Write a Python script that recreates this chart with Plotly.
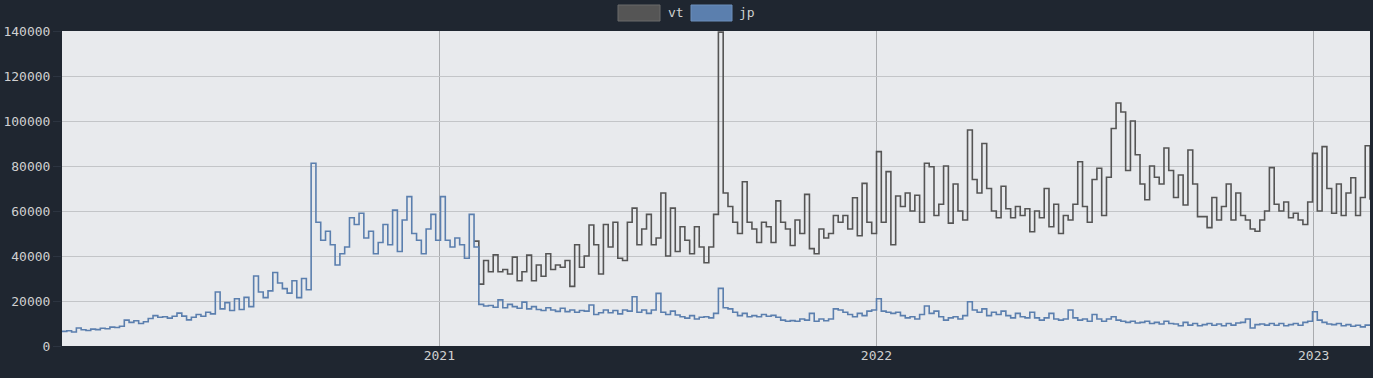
import pandas as pd
import plotly.graph_objects as go

# sampling: one value every 4 days
start_date = "2020-02-21"
n_points = 274
vt_start_index = 86

jp_values = [
    6500, 6800, 6200, 8000, 7200, 6900, 7500, 7300, 7900, 7700,
    8400, 8200, 8800, 11500, 10500, 11200, 10000, 10800, 12200, 13500,
    12800, 13000, 12400, 13200, 14600, 13300, 11600, 12800, 14000, 13200,
    15000, 14300, 24000, 16500, 19300, 15800, 21000, 16200, 21600, 17500,
    31100, 24000, 21500, 24500, 32700, 28000, 25500, 23500, 29000, 21500,
    30000, 25000, 81200, 55000, 47000, 51000, 45000, 36000, 41000, 44000,
    57000, 54000, 59000, 48000, 51000, 41000, 46000, 54000, 45000, 60400,
    42000, 56000, 66400, 50000, 47000, 41000, 52000, 58500, 47000, 66400,
    47000, 44000, 48000, 45000, 39000, 58500, 44000,
    18500, 17800, 18000, 17200, 20500, 17000, 18500, 17500, 16800, 19500,
    16500, 17500, 16200, 15800, 17000, 16000, 15400, 16800, 15300, 16000,
    15000, 15800, 15500, 18200, 14000, 14800, 16000, 14800, 15800, 14300,
    16000, 15500, 21900, 15000, 16000, 14500, 16000, 23400, 15000, 14000,
    15500, 13800, 13000, 12400, 13500, 12000, 12800, 13000, 12500, 14500,
    25600, 17000, 16500, 15000, 13500, 14500, 13000, 13500, 13000, 14000,
    13200, 13600, 12800, 11500, 11000, 11300, 11000, 12000, 11500, 14500,
    11000, 12000, 11200, 12000, 16500, 16000, 15000, 14000, 13000, 14500,
    13500, 15500, 16000, 21000, 15500, 15000, 14500, 15000, 13500, 12500,
    13000, 12000, 14000, 17800, 14500, 15500, 13000, 11500, 12500, 13000,
    12000, 13500, 19700, 16000, 15000, 16500, 13500, 15000, 14000, 15500,
    13500, 12500, 14500, 13000, 12500, 15000, 12500, 11500, 12500, 14500,
    12000, 11500, 12000, 16000, 12500, 11500, 12000, 11000, 14000, 12000,
    11000, 12000, 13000, 11500, 11000, 10500, 11000, 10200, 10500, 11000,
    10000, 10500, 9800, 11000, 10000, 9800, 9000, 10500, 9300, 10000,
    9000, 9500, 10000, 9200, 9800, 9000, 10000, 9300, 10200, 10500,
    12000, 8000, 9500, 9800, 9300, 10000, 9200, 10000, 9000, 9500,
    10000, 9200, 10500, 11000, 15200, 11500, 10500, 9800, 9500, 10000,
    9000, 9500, 8800, 9200, 8500, 9300, 9000,
]

vt_values = [
    46600, 27500, 38000, 33000, 40500, 33000, 34000, 32000, 39500, 29000,
    33000, 40400, 29000, 36000, 31000, 41000, 34000, 36000, 35000, 38000,
    26500, 45000, 35000, 40000, 53800, 45000, 32000, 54000, 44000, 55000,
    39000, 38000, 55000, 61300, 45000, 52000, 58500, 45000, 48000, 68000,
    40000, 61300, 42000, 53000, 47000, 41000, 53000, 44000, 37000, 44000,
    58500, 139500, 68000, 62000, 55000, 50000, 73000, 55000, 52000, 46000,
    55000, 53000, 46000, 64500, 55000, 52000, 44700, 56000, 50000, 67400,
    43300, 41000, 52000, 48000, 50000, 58000, 55000, 58000, 52000, 65900,
    49000, 72300, 55000, 50000, 86400, 55000, 77500, 45000, 66700, 62000,
    68000, 60000, 67000, 55000, 81200, 79700, 58000, 63000, 80000, 54600,
    72000, 60000, 56000, 96000, 74000, 68000, 90000, 70000, 60000, 57000,
    71000, 61000, 57000, 62000, 58000, 61000, 50800, 60000, 57000, 70000,
    53000, 63000, 50000, 58000, 56000, 63000, 81900, 62000, 55000, 74000,
    79000, 58000, 75000, 96700, 108000, 104000, 78000, 100000, 85000, 72000,
    65000, 80000, 75000, 72000, 88000, 78000, 66000, 76000, 62700, 87100,
    72000, 57500, 57500, 52600, 66000, 56000, 62000, 72000, 56000, 68000,
    58000, 56000, 52000, 51000, 56000, 60000, 79300, 63000, 60000, 64000,
    57000, 59000, 56000, 54000, 64000, 85600, 60000, 88600, 70000, 59000,
    72000, 58000, 68000, 74800, 58000, 66000, 89000, 65000,
]

series_names = ["vt", "jp"]
series_colors = ["#555555", "#5b7fae"]
x_tick_labels = ["2021", "2022", "2023"]

dates = pd.date_range(start_date, periods=n_points, freq="4D")
vt_dates = dates[vt_start_index:]

fig = go.Figure()
fig.add_trace(go.Scatter(
    x=vt_dates, y=vt_values, name=series_names[0], mode="lines",
    line=dict(color=series_colors[0], width=1.6, shape="hv"),
))
fig.add_trace(go.Scatter(
    x=dates, y=jp_values, name=series_names[1], mode="lines",
    line=dict(color=series_colors[1], width=1.6, shape="hv"),
))

font_family = "DejaVu Sans Mono"
font_color = "#d0d0d0"

# custom legend (boxes + labels) above the plot
L, R, T, B = 62, 3, 31, 32
W, H = 1373, 378
pw = W - L - R
ph = H - T - B


def px_x(p):
    return (p - L) / pw


def px_y(p):
    return (H - B - p) / ph


legend_items = [(618, 660, 666), (691, 732, 737)]
shapes = []
annotations = []
for (bx0, bx1, tx), name, color in zip(legend_items, series_names, series_colors):
    shapes.append(dict(
        type="rect", xref="paper", yref="paper",
        x0=px_x(bx0), x1=px_x(bx1), y0=px_y(21), y1=px_y(5),
        fillcolor=color, line=dict(color="#6a6a6a" if name == "vt" else "#6d8fbb", width=1),
    ))
    annotations.append(dict(
        xref="paper", yref="paper", x=px_x(tx), y=px_y(13),
        xanchor="left", yanchor="middle", text=name, showarrow=False,
        font=dict(family=font_family, size=13, color=font_color),
    ))

fig.update_layout(
    width=W, height=H,
    margin=dict(l=L, r=R, t=T, b=B),
    paper_bgcolor="#1f2630",
    plot_bgcolor="#e8eaed",
    showlegend=False,
    font=dict(family=font_family, size=13, color=font_color),
    shapes=shapes,
    annotations=annotations,
    xaxis=dict(
        type="date",
        range=[dates[0], dates[-1]],
        tickvals=[pd.Timestamp(y + "-01-01") for y in x_tick_labels],
        ticktext=x_tick_labels,
        showgrid=True, gridcolor="#a9abae", gridwidth=1,
        zeroline=False, showline=False,
        ticks="", tickfont=dict(family=font_family, size=13, color=font_color),
    ),
    yaxis=dict(
        range=[0, 140000], dtick=20000, tickformat="d",
        showgrid=True, gridcolor="#c3c5c8", gridwidth=1,
        zeroline=False, showline=False,
        ticks="outside", ticklen=8, tickcolor="#2c3440",
        tickfont=dict(family=font_family, size=13, color=font_color),
    ),
)

fig.write_html(
    "out.html",
    config={"displayModeBar": False},
    post_script="document.body.style.margin='0';document.body.style.padding='0';"
                "document.body.style.background='#1f2630';",
)
